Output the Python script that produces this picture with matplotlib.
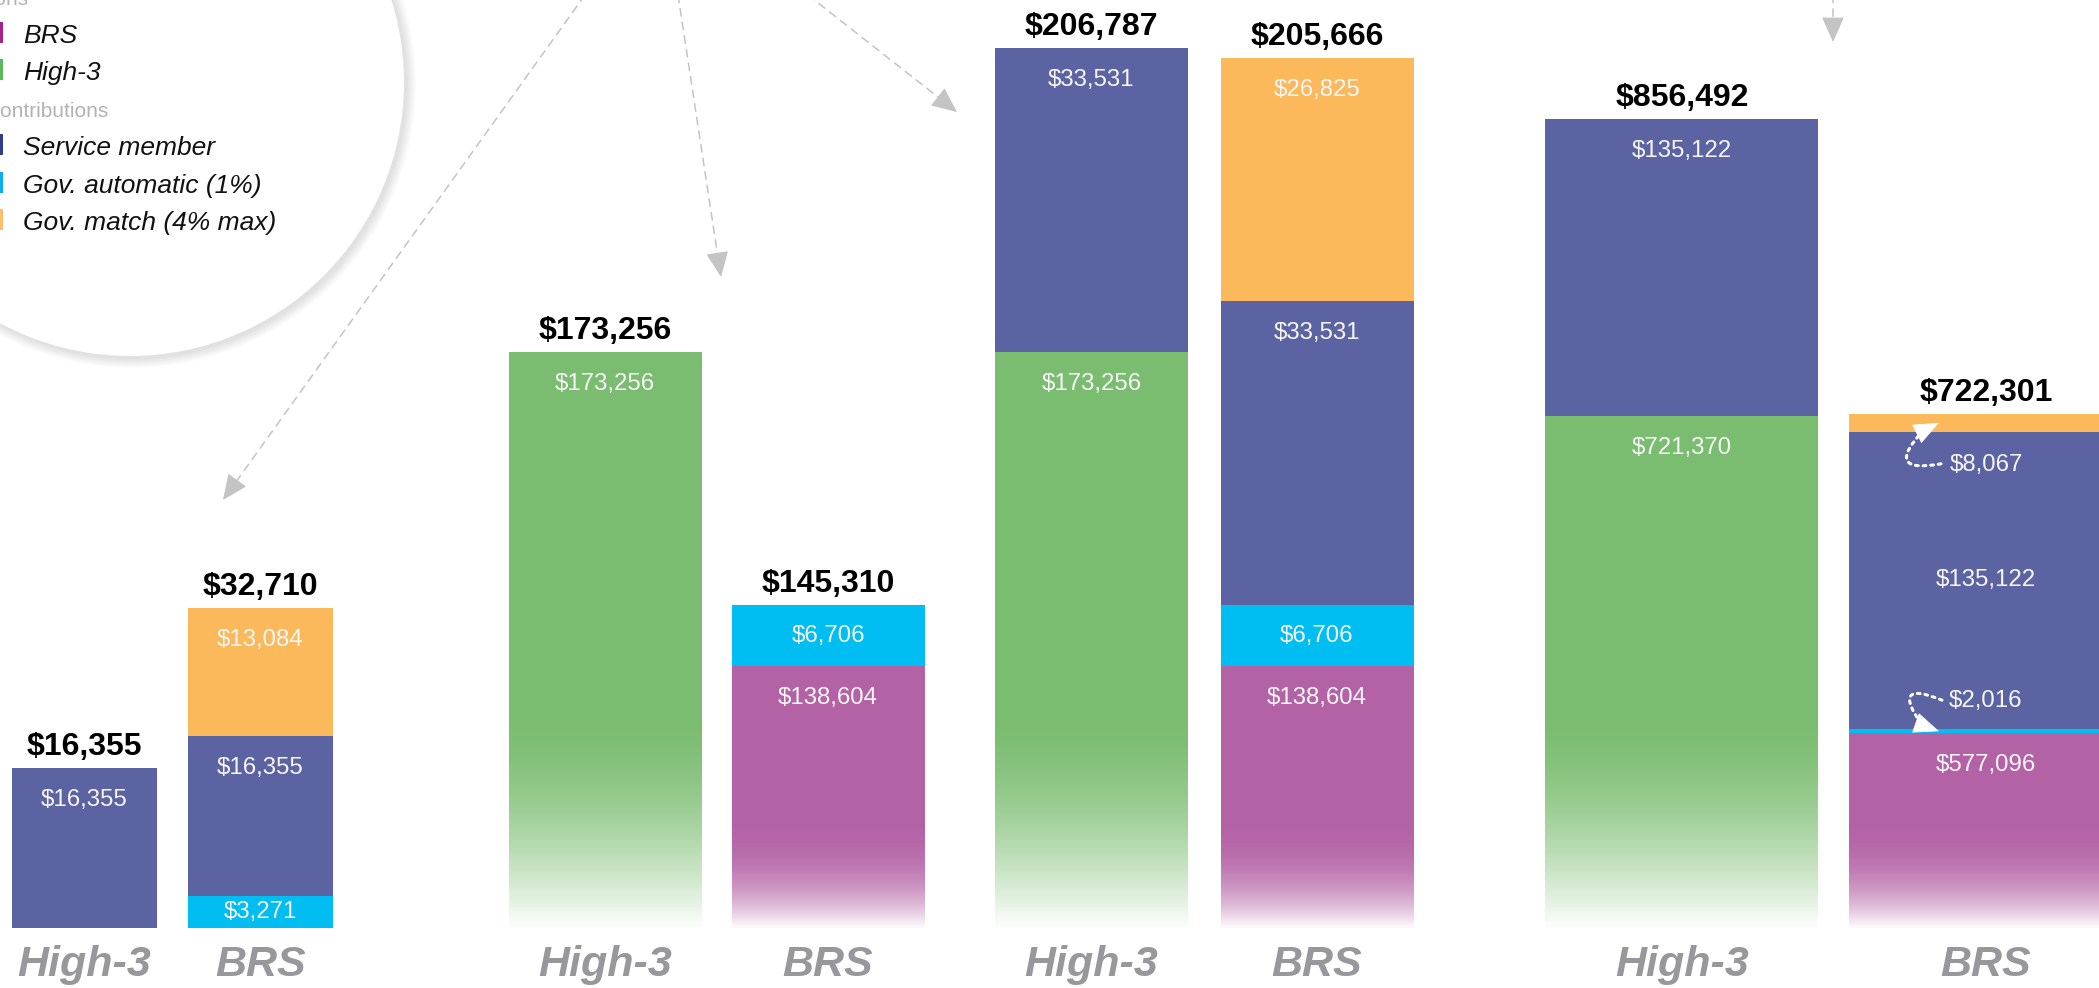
import numpy as np
import matplotlib
matplotlib.use("Agg")
import matplotlib.pyplot as plt
from matplotlib import font_manager
from matplotlib.patches import Circle, Rectangle
from matplotlib.transforms import offset_copy

plt.rcParams['font.family'] = ['Liberation Sans', 'DejaVu Sans']

# ---- data (4 scenarios, left to right) ----
plans = ["High-3", "BRS"]
high3_pension = [0, 173256, 173256, 721370]
high3_member = [16355, 0, 33531, 135122]
brs_pension = [0, 138604, 138604, 577096]
brs_auto = [3271, 6706, 6706, 2016]
brs_member = [16355, 0, 33531, 135122]
brs_match = [13084, 0, 26825, 8067]

legend_pension = ["BRS", "High-3"]
legend_contrib = ["Service member", "Gov. automatic (1%)", "Gov. match (4% max)"]

GREEN = '#7bbd70'
PURPLE = '#b462a6'
BLUE = '#5c63a2'
CYAN = '#00bdf2'
ORANGE = '#fcb95c'
GREY = '#98989c'

W, H = 2099, 988
BASE = 928  # baseline, px from top
PT = 0.72   # points per pixel at 100 dpi

# layout per scenario: first bar centre px, bar spacing px, bar width px, y-limits
panels = [(84.5, 176, 145, 0, 94860),
          (605, 223, 193, 109750, 212065),
          (1091.5, 225.5, 193, 109750, 212065),
          (1682, 304, 273, 488640, 910460)]

names = {f.name for f in font_manager.fontManager.ttflist}
if 'Liberation Sans Narrow' in names:
    cat_font, cat_size = 'Liberation Sans Narrow', 36
else:
    cat_font, cat_size = 'Liberation Sans', 31


def fmt(v):
    return f"${v:,.0f}"


fig = plt.figure(figsize=(W / 100, H / 100), dpi=100)

# canvas for legend bubble and pointer arrows (pixel coords, y down)
cv = fig.add_axes([0, 0, 1, 1])
cv.set_xlim(0, W)
cv.set_ylim(H, 0)
cv.axis('off')

for k in range(10, 0, -1):
    cv.add_patch(Circle((132, 84), 274 + k, color='black', alpha=0.010, lw=0))
cv.add_patch(Circle((130, 82), 274, color='white', lw=0))

cv.text(28, 5, "Pensions", ha='right', va='baseline', fontsize=15, color='#b3b3b3')
cv.text(108, 117, "Contributions", ha='right', va='baseline', fontsize=15, color='#b3b3b3')
items = list(zip(legend_pension + legend_contrib,
                 ['#a5228f', '#5cb85c', '#2e3f8e', '#0aaeea', '#fdbf6f'],
                 [43, 80, 155, 193, 230]))
for lab, col, yb in items:
    cv.add_patch(Rectangle((-20, yb - 21), 23, 21, color=col, lw=0))
    cv.text(23, yb, lab, ha='left', va='baseline', fontsize=19, style='italic', color='#111111')

pointers = [((585, -5), (223, 500)), ((678, -5), (721, 277)),
            ((808, -5), (957, 112)), ((1833, -5), (1833, 42))]
for (x0, y0), (x1, y1) in pointers:
    v = np.array([x1 - x0, y1 - y0], float)
    v /= np.hypot(*v)
    mid = (x1 - 16 * v[0], y1 - 16 * v[1])
    cv.annotate('', xy=mid, xytext=(x0, y0),
                arrowprops=dict(arrowstyle='-', linestyle=(0, (5, 4)), color='#c4c4c4',
                                lw=1.1, shrinkA=0, shrinkB=0))
    cv.annotate('', xy=(x1, y1), xytext=(x1 - 20 * v[0], y1 - 20 * v[1]),
                arrowprops=dict(arrowstyle='-|>,head_length=0.9,head_width=0.4',
                                mutation_scale=18, color='#c4c4c4', lw=0.8,
                                shrinkA=0, shrinkB=0))

fades = {GREEN: (210, 1.6), PURPLE: (118, 2.6)}
lab_kw = dict(ha='center', va='center', fontsize=17.3, color='#f6f6f6', zorder=4)


def curl(ax, tip, head_off, start_off, rad):
    # dotted curled pointer from a label to a thin segment (offsets in px, y up)
    base_tr = offset_copy(ax.transData, fig=fig, x=head_off[0] * PT, y=head_off[1] * PT,
                          units='points')
    ax.annotate('', xy=tip, xycoords=base_tr,
                xytext=(start_off[0] * PT, start_off[1] * PT), textcoords='offset points',
                arrowprops=dict(arrowstyle='-', connectionstyle=f'arc3,rad={rad}',
                                linestyle=(0, (0.9, 1.6)), lw=2.2, color='white',
                                shrinkA=0, shrinkB=0), zorder=4)
    ax.annotate('', xy=tip, xytext=(head_off[0] * PT, head_off[1] * PT),
                textcoords='offset points',
                arrowprops=dict(arrowstyle='-|>,head_length=0.85,head_width=0.35',
                                mutation_scale=20, color='white', lw=0.5,
                                shrinkA=0, shrinkB=0), zorder=4)


for i, (c0, d, w, ylo, yhi) in enumerate(panels):
    ax = fig.add_axes([(c0 - d) / W, (H - BASE) / H, 3 * d / W, BASE / H])
    ax.patch.set_visible(False)
    for s in ax.spines.values():
        s.set_visible(False)
    ax.set_xlim(-1, 2)
    ax.set_ylim(ylo, yhi)
    ax.set_autoscale_on(False)
    bw = w / d
    ppd = BASE / (yhi - ylo)
    stacks = [(0, [(high3_pension[i], GREEN), (high3_member[i], BLUE)]),
              (1, [(brs_pension[i], PURPLE), (brs_auto[i], CYAN),
                   (brs_member[i], BLUE), (brs_match[i], ORANGE)])]
    for x, segs in stacks:
        segs = [(v, c) for v, c in segs if v > 0]
        bottoms = np.concatenate([[0], np.cumsum([v for v, _ in segs])[:-1]])
        tiny = [v * ppd < 30 for v, _ in segs]
        for j, ((val, col), b) in enumerate(zip(segs, bottoms)):
            rect = ax.bar(x, val, bottom=b, width=bw, color=col, lw=0, zorder=2)[0]
            if col in fades:
                fpx, pw = fades[col]
                t = np.linspace(0, 1, 256)
                img = np.ones((256, 1, 4))
                img[:, 0, 3] = np.clip(t ** pw, 0, 0.97)
                ax.imshow(img, extent=(x - bw / 2, x + bw / 2, ylo, ylo + fpx / ppd),
                          aspect='auto', origin='upper', interpolation='bilinear',
                          clip_path=rect, zorder=2.5)
            top = b + val
            vis = (top - max(b, ylo)) * ppd
            if tiny[j]:
                tip = (x - 47 / d, b + val / 2)
                if j == len(segs) - 1:
                    ax.annotate(fmt(val), (x, b), xytext=(0, -33 * PT),
                                textcoords='offset points', **lab_kw)
                    curl(ax, tip, (-16, -8), (18, -33), -1.5)
                else:
                    ax.annotate(fmt(val), (x, top), xytext=(0, 28 * PT),
                                textcoords='offset points', **lab_kw)
                    curl(ax, tip, (-17, 6), (20, 25), 1.7)
            elif vis < 90 or (j > 0 and tiny[j - 1]):
                ax.text(x, (top + max(b, ylo)) / 2, fmt(val), **lab_kw)
            else:
                ax.annotate(fmt(val), (x, top), xytext=(0, -23),
                            textcoords='offset points', **lab_kw)
        total = sum(v for v, _ in segs)
        ax.annotate(fmt(total), (x, total), xytext=(0, 9.5), textcoords='offset points',
                    ha='center', va='baseline', fontsize=23, fontweight='bold',
                    color='black', zorder=4)

    ax.set_yticks([])
    ax.set_xticks([0, 1])
    ax.set_xticklabels(plans, fontsize=cat_size, fontweight='bold', style='italic',
                       color=GREY, family=cat_font)
    ax.tick_params(axis='x', length=0, pad=12)

fig.savefig('out.png', dpi=100)
